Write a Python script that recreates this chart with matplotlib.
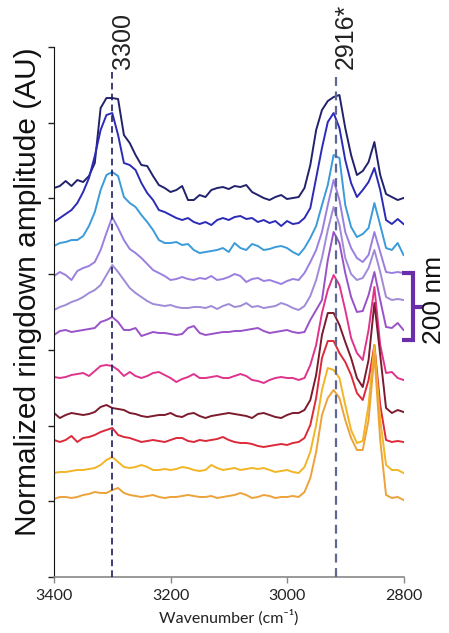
import numpy as np
import matplotlib
matplotlib.use("Agg")
import matplotlib.pyplot as plt
from matplotlib import transforms

# wavenumber grid (cm^-1), one sample every 10 cm^-1
wavenumber = np.arange(3400, 2799, -10)

# stacked spectra, heights in arbitrary units (top of stack first)
navy = [389, 391, 396, 391, 397, 395, 401, 414, 469, 479, 479, 478, 442, 434, 422, 412,
        411, 401, 392, 389, 385, 387, 391, 377, 377, 382, 380, 387, 389, 390, 388, 391,
        390, 392, 385, 382, 379, 377, 380, 382, 378, 379, 380, 389, 412, 447, 467, 476,
        480, 482, 449, 422, 402, 406, 415, 435, 402, 383, 380, 377, 379]
blue = [355, 359, 363, 367, 374, 385, 399, 421, 447, 462, 464, 442, 414, 412, 407, 394,
        384, 377, 367, 365, 362, 359, 357, 359, 355, 353, 355, 352, 357, 359, 357, 360,
        361, 358, 359, 355, 357, 354, 356, 351, 356, 353, 354, 359, 369, 399, 429, 455,
        464, 449, 417, 394, 380, 387, 395, 409, 387, 357, 353, 358, 353]
light_blue = [331, 334, 335, 337, 337, 341, 351, 365, 387, 402, 405, 401, 380, 374, 370, 362,
              355, 347, 337, 334, 334, 335, 332, 333, 327, 324, 325, 326, 327, 329, 325, 334,
              329, 327, 333, 331, 327, 328, 330, 331, 329, 325, 322, 329, 339, 351, 372, 392,
              422, 419, 372, 350, 340, 343, 349, 374, 352, 329, 327, 334, 322]
lavender = [301, 305, 302, 297, 306, 309, 311, 315, 327, 344, 360, 349, 337, 328, 324, 319,
            313, 307, 304, 301, 297, 298, 300, 298, 297, 299, 298, 301, 297, 298, 300, 303,
            301, 295, 298, 299, 296, 297, 295, 293, 296, 298, 297, 304, 315, 327, 345, 372,
            397, 377, 345, 329, 319, 315, 322, 345, 325, 305, 304, 305, 304]
lilac = [267, 270, 272, 275, 277, 280, 284, 287, 292, 302, 312, 305, 297, 289, 284, 280,
         276, 273, 272, 271, 272, 270, 269, 269, 270, 270, 269, 271, 268, 271, 273, 270,
         271, 274, 270, 271, 269, 270, 271, 274, 272, 269, 267, 271, 281, 297, 319, 347,
         370, 352, 319, 303, 297, 299, 309, 327, 305, 280, 277, 278, 277]
purple = [242, 246, 247, 245, 246, 247, 248, 249, 255, 257, 260, 255, 247, 247, 249, 241,
          243, 245, 244, 244, 243, 242, 243, 249, 251, 244, 242, 243, 244, 245, 245, 246,
          246, 247, 248, 249, 246, 244, 245, 246, 247, 245, 244, 245, 257, 267, 277, 317,
          345, 334, 304, 280, 265, 266, 282, 305, 277, 250, 249, 254, 247]
pink = [200, 199, 200, 202, 203, 204, 201, 206, 211, 212, 211, 207, 201, 205, 201, 199,
        201, 204, 205, 202, 199, 195, 198, 200, 203, 199, 199, 200, 201, 199, 199, 201,
        203, 201, 197, 196, 194, 197, 199, 200, 199, 199, 197, 199, 212, 232, 264, 287,
        302, 292, 267, 239, 224, 217, 247, 290, 232, 204, 205, 199, 197]
maroon = [164, 159, 162, 164, 163, 162, 163, 165, 170, 172, 169, 168, 167, 164, 163, 161,
          160, 161, 162, 162, 164, 161, 160, 163, 164, 161, 159, 161, 162, 163, 164, 163,
          162, 161, 159, 163, 164, 162, 160, 159, 162, 164, 164, 167, 177, 202, 242, 264,
          264, 252, 235, 219, 199, 190, 217, 274, 222, 169, 164, 167, 165]
red = [137, 135, 137, 141, 135, 139, 140, 142, 145, 147, 149, 142, 140, 139, 137, 135,
       136, 137, 136, 135, 137, 139, 139, 136, 135, 137, 136, 137, 138, 140, 137, 135,
       134, 134, 133, 131, 130, 131, 132, 133, 132, 134, 135, 139, 152, 179, 219, 236,
       236, 224, 215, 202, 184, 177, 197, 232, 172, 137, 135, 136, 135]
gold = [104, 105, 105, 106, 107, 107, 108, 109, 112, 117, 120, 115, 110, 109, 110, 112,
        110, 107, 107, 108, 107, 108, 110, 109, 107, 106, 107, 112, 109, 107, 108, 109,
        107, 108, 109, 108, 109, 107, 105, 106, 107, 105, 104, 110, 125, 152, 187, 209,
        207, 199, 172, 147, 134, 136, 172, 232, 157, 112, 107, 107, 104]
orange = [78, 80, 80, 79, 80, 82, 83, 85, 84, 84, 87, 89, 84, 82, 81, 80,
          81, 82, 80, 79, 80, 80, 81, 82, 81, 80, 80, 81, 79, 80, 81, 82,
          84, 82, 79, 80, 82, 81, 79, 80, 80, 81, 80, 85, 99, 125, 162, 179,
          187, 179, 157, 139, 127, 127, 157, 222, 137, 82, 79, 80, 77]

spectra = [navy, blue, light_blue, lavender, lilac, purple, pink, maroon, red, gold, orange]
colors = ["#22226c", "#2b2bb8", "#3b9bd9", "#9a7fe0", "#a08bd6", "#9a52c8",
          "#e0338c", "#7b1b2d", "#dc2a3a", "#f2b526", "#eda23a"]

peak_positions = [3300, 2916]
peak_labels = ["3300", "2916*"]
peak_colors = ["#1c1c5e", "#5f6794"]

fig = plt.figure(figsize=(4.49, 6.33), dpi=100)
ax = fig.add_axes([0.1203, 0.0885, 0.7784, 0.8372])

for y, c in zip(spectra, colors):
    ax.plot(wavenumber, y, color=c, lw=1.4, solid_joinstyle="round")

ax.set_xlim(3400, 2800)
ax.set_ylim(0, 530)
ax.set_xticks([3400, 3200, 3000, 2800])
ax.set_yticks(np.linspace(0, 530, 8))
ax.set_yticklabels([])
for lab in ax.get_xticklabels():
    lab.set_family(["Lato", "DejaVu Sans"])
    lab.set_fontsize(11.5)
    lab.set_color("#222222")
ax.tick_params(axis="x", direction="out", length=4, width=1, color="#888888", pad=5)
ax.tick_params(axis="y", direction="out", length=4, width=1, color="#222222")
ax.spines["top"].set_visible(False)
ax.spines["right"].set_visible(False)
ax.spines["bottom"].set_color("#888888")
ax.spines["bottom"].set_linewidth(1.2)
ax.spines["left"].set_color("#111111")

ax.set_xlabel("Wavenumber (cm\u207b\u00b9)", family=["Lato", "DejaVu Sans"],
              fontsize=11.5, color="#222222", labelpad=4)

# dashed peak markers with labels
for pos, lab, c in zip(peak_positions, peak_labels, peak_colors):
    ax.axvline(pos, ymin=0, ymax=505 / 530, color=c, lw=1.2 if pos == 3300 else 1.6,
               ls=(0, (4, 2.5)), zorder=5)
    ax.text(pos + 3, 508, lab, rotation=90, ha="left", va="bottom",
            family=["Liberation Sans", "DejaVu Sans"], fontsize=18, color="#222222",
            clip_on=False)

fig.text(0.062, 1 - 292 / 633, "Normalized ringdown amplitude (AU)", rotation=90,
         ha="center", va="center", family=["Liberation Sans", "DejaVu Sans"],
         fontsize=21.5, color="#111111")

# 200 nm bracket on the right
trans = transforms.blended_transform_factory(ax.transAxes, ax.transData)
br_top, br_bot = 304, 237
br_mid = (br_top + br_bot) / 2
bc = "#6a2fa8"
ax.plot([0.996, 1.027, 1.027, 0.996], [br_top, br_top, br_bot, br_bot], color=bc, lw=3,
        transform=trans, clip_on=False, solid_capstyle="butt", solid_joinstyle="miter")
ax.plot([1.027, 1.056], [br_mid, br_mid], color=bc, lw=3, transform=trans,
        clip_on=False, solid_capstyle="butt")
fig.text(434 / 449, 1 - 300 / 633, "200 nm", rotation=90, ha="center", va="center",
         family=["Liberation Sans", "DejaVu Sans"], fontsize=19, color="#111111")

fig.savefig("out.png", dpi=100)
